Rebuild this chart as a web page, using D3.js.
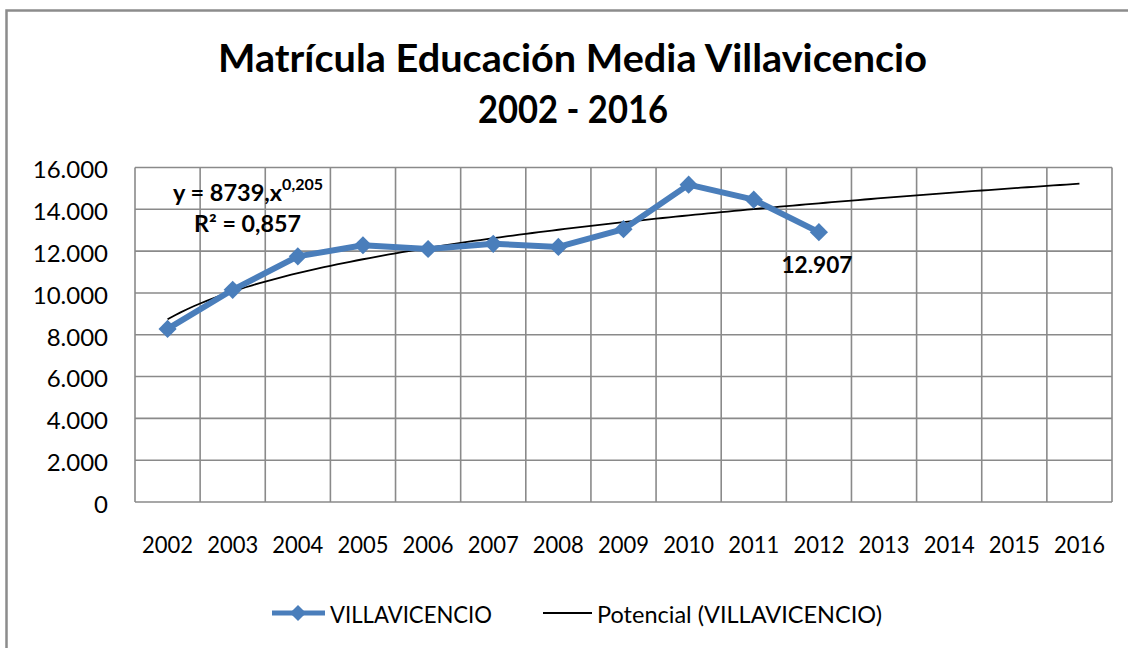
<!DOCTYPE html>
<html>
<head>
<meta charset="utf-8">
<script src="https://cdn.jsdelivr.net/npm/d3@7"></script>
<style>
  body{margin:0;background:#fff;}
  text{font-family:Lato,"Liberation Sans",sans-serif;fill:#000;}
</style>
</head>
<body>
<div id="chart"></div>
<script>
// DATA
let years = ["2002","2003","2004","2005","2006","2007","2008","2009","2010","2011","2012","2013","2014","2015","2016"];
let villavicencio = [8280,10150,11750,12280,12100,12350,12200,13050,15180,14460,12907];
let yTicks = [0,2000,4000,6000,8000,10000,12000,14000,16000];
// trend equation printed on the chart: y = 8739 x^0,205
let trendA = 8739, trendB = 0.205;
let trendLabel = ["y = 8739,x", "0,205"], r2Label = "R² = 0,857";

let width = 1128, height = 648;
let plot = {left:135, right:1112, top:167.5, bottom:502};
let blue = "#4a7ebb", grid = "#8a8a8a";

let svg = d3.select("#chart").append("svg")
            .attr("width",width)
            .attr("height",height);

// OUTER BORDER (runs off the picture at right and bottom)
svg.append("rect")
   .attr("x",6.5).attr("y",10.5)
   .attr("width",1300).attr("height",800)
   .attr("fill","none")
   .attr("stroke","#8c8c8c")
   .attr("stroke-width",2.5);

// TITLE
svg.append("text")
   .attr("x",572.5).attr("y",72)
   .attr("text-anchor","middle")
   .attr("font-size",39).attr("font-weight","bold")
   .attr("textLength",709).attr("lengthAdjust","spacingAndGlyphs")
   .text("Matrícula Educación Media Villavicencio");
svg.append("text")
   .attr("x",573).attr("y",123)
   .attr("text-anchor","middle")
   .attr("font-size",39).attr("font-weight","bold")
   .attr("textLength",190).attr("lengthAdjust","spacingAndGlyphs")
   .text("2002 - 2016");

// SCALES
let x = d3.scaleBand().domain(years).range([plot.left,plot.right]).padding(0);
let y = d3.scaleLinear().domain([0,16000]).range([plot.bottom,plot.top]);
let cx = d => x(d) + x.bandwidth()/2;

// GRID
let g = svg.append("g");
g.selectAll("line.h").data(yTicks).enter().append("line")
 .attr("x1",plot.left).attr("x2",plot.right)
 .attr("y1",d=>y(d)).attr("y2",d=>y(d))
 .attr("stroke",grid).attr("stroke-width",1.6);
g.selectAll("line.v").data(d3.range(years.length+1)).enter().append("line")
 .attr("x1",i=>plot.left + i*x.bandwidth()).attr("x2",i=>plot.left + i*x.bandwidth())
 .attr("y1",plot.top).attr("y2",plot.bottom)
 .attr("stroke",grid).attr("stroke-width",1.6);

// Y LABELS
let fmt = d => d === 0 ? "0" : d3.format(",")(d).replace(/,/g,".");
svg.selectAll("text.ytick").data(yTicks).enter().append("text")
   .attr("x",108).attr("y",d=>y(d)+2.5)
   .attr("dy","0.35em")
   .attr("text-anchor","end")
   .attr("font-size",24)
   .text(fmt);

// X LABELS
svg.selectAll("text.xtick").data(years).enter().append("text")
   .attr("x",d=>cx(d)).attr("y",553)
   .attr("text-anchor","middle")
   .attr("font-size",24)
   .attr("textLength",51).attr("lengthAdjust","spacingAndGlyphs")
   .text(d=>d);

// TREND LINE (power, from the printed equation)
let trendPts = d3.range(1,15.001,0.1).map(t => [plot.left + (t-0.5)*x.bandwidth(), trendA*Math.pow(t,trendB)]);
svg.append("path")
   .datum(trendPts)
   .attr("fill","none")
   .attr("stroke","#000")
   .attr("stroke-width",1.8)
   .attr("d",d3.line().x(d=>d[0]).y(d=>y(d[1])));

// SERIES
let series = villavicencio.map((v,i)=>({year:years[i],value:v}));
svg.append("path")
   .datum(series)
   .attr("fill","none")
   .attr("stroke",blue)
   .attr("stroke-width",6)
   .attr("stroke-linejoin","round")
   .attr("d",d3.line().x(d=>cx(d.year)).y(d=>y(d.value)));

let diamond = d3.symbol().type(d3.symbolSquare).size(165);
svg.selectAll("path.marker").data(series).enter().append("path")
   .attr("d",diamond)
   .attr("fill",blue)
   .attr("transform",d=>"translate("+cx(d.year)+","+y(d.value)+") rotate(45)");

// DATA LABEL (last point)
let last = series[series.length-1];
svg.append("text")
   .attr("x",cx(last.year)-2).attr("y",273)
   .attr("text-anchor","middle")
   .attr("font-size",23).attr("font-weight","bold")
   .attr("textLength",71).attr("lengthAdjust","spacingAndGlyphs")
   .text(fmt(last.value));

// EQUATION
let eq = svg.append("text")
            .attr("x",173).attr("y",201)
            .attr("font-size",22).attr("font-weight","bold")
            .attr("textLength",150).attr("lengthAdjust","spacingAndGlyphs");
eq.append("tspan").text(trendLabel[0]);
eq.append("tspan").attr("dy",-11).attr("font-size",15).text(trendLabel[1]);
svg.append("text")
   .attr("x",194).attr("y",232)
   .attr("font-size",22).attr("font-weight","bold")
   .attr("textLength",107).attr("lengthAdjust","spacingAndGlyphs")
   .text(r2Label);

// LEGEND
let leg = svg.append("g");
leg.append("line")
   .attr("x1",272).attr("x2",325).attr("y1",613).attr("y2",613)
   .attr("stroke",blue).attr("stroke-width",5);
leg.append("path")
   .attr("d",d3.symbol().type(d3.symbolSquare).size(130))
   .attr("fill",blue)
   .attr("transform","translate(298,613) rotate(45)");
leg.append("text")
   .attr("x",330).attr("y",623)
   .attr("font-size",24)
   .attr("textLength",162).attr("lengthAdjust","spacingAndGlyphs")
   .text("VILLAVICENCIO");
leg.append("line")
   .attr("x1",543).attr("x2",592).attr("y1",613).attr("y2",613)
   .attr("stroke","#000").attr("stroke-width",1.8);
leg.append("text")
   .attr("x",597).attr("y",623)
   .attr("font-size",24)
   .attr("textLength",285).attr("lengthAdjust","spacingAndGlyphs")
   .text("Potencial (VILLAVICENCIO)");
</script>
</body>
</html>
